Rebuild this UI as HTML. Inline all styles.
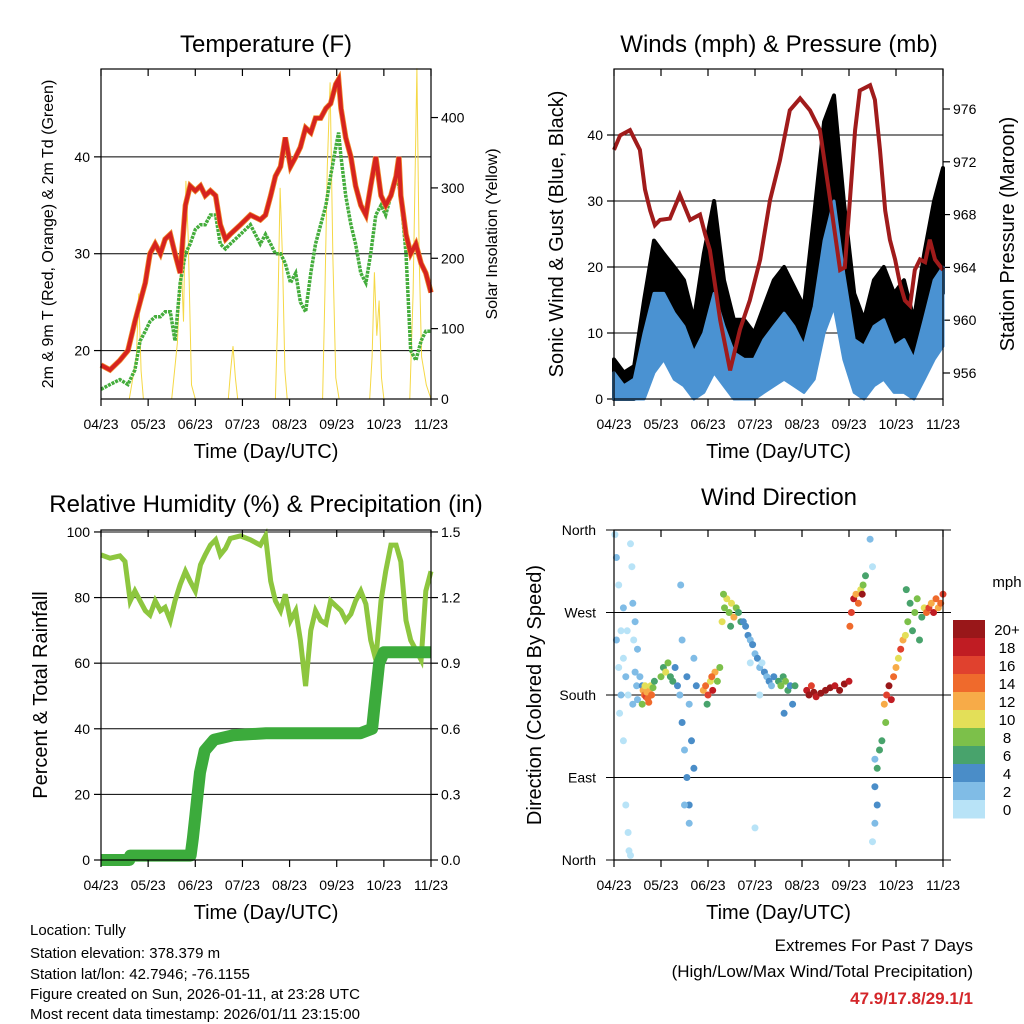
<!DOCTYPE html>
<html><head><meta charset="utf-8">
<style>
html,body{margin:0;padding:0;background:#fff;}
svg{display:block;font-family:"Liberation Sans",sans-serif;}
</style></head>
<body>
<svg id="chart" width="1024" height="1024" viewBox="0 0 1024 1024" xmlns="http://www.w3.org/2000/svg">
<g id="layer"></g>
</svg>
<script>
// ---------- data ----------
const xTickLabels = ["04/23","05/23","06/23","07/23","08/23","09/23","10/23","11/23"];
const tempDays = [0,.19,.40,.57,.72,.83,.94,1.04,1.15,1.26,1.36,1.47,1.57,1.68,1.79,1.89,2.0,2.11,2.21,2.32,2.43,2.53,2.64,2.74,2.96,3.17,3.38,3.49,3.6,3.7,3.81,3.91,4.02,4.13,4.23,4.34,4.45,4.55,4.66,4.77,4.87,4.98,5.04,5.09,5.19,5.3,5.4,5.51,5.62,5.72,5.83,5.94,6.04,6.15,6.26,6.32,6.36,6.47,6.57,6.68,6.79,6.89,7.0];
const tempRed = [18.5,18,19,20,23,25,27,30,31,30,31.5,32,30,28,35,37,36.5,37,36,36.5,36,33,31.5,32,33,34,33.5,34,36,38,39,42,39,40,41,43,42.5,44,44,45,45.5,47.5,48,45,42,40,37,35,34,37,40,36,35,36,38,40,36,32,30,31,29,28,26];
const dewGreen = [16,16.5,17,16.5,18,21,22,23,23.5,23.5,24,24,21,27,30,31,32.5,33,33,34,34,31,30.5,31,32,33,31,32,31,30,30,29,27,28,25,24,28,31,33,35,38,41,42.5,40,36,33,31,28,27,30,34,35,34,36,38,37,36,30,20,19,21,22,22];
const tempTicks = [20,30,40];
const solarTicks = [0,100,200,300,400];
const solarDays = [0,0.6,0.75,0.8,0.85,0.9,1.5,1.62,1.7,1.75,1.8,1.85,1.92,2.0,2.7,2.75,2.8,2.85,2.9,3.7,3.75,3.8,3.85,3.9,3.95,4.7,4.75,4.8,4.86,4.92,4.98,5.05,5.7,5.75,5.8,5.85,5.9,5.95,6.0,6.55,6.62,6.7,6.75,6.8,6.9,7.0];
const solarVals = [0,0,60,150,40,0,0,80,200,110,310,230,20,0,0,40,75,30,0,0,120,300,200,40,0,0,150,330,450,200,30,0,0,60,180,90,140,30,0,0,150,470,200,60,20,0];

const windDays = [0,.21,.43,.64,.85,1.06,1.28,1.49,1.7,1.91,2.13,2.34,2.55,2.77,2.98,3.19,3.4,3.62,3.83,4.04,4.26,4.47,4.68,4.89,5.11,5.32,5.53,5.74,5.96,6.17,6.38,6.6,6.81,7.0];
const gustHi = [6,4,5,15,24,22,20,18,12,22,30,18,12,12,10,14,18,20,17,14,28,42,46,30,16,12,18,20,16,18,12,22,30,35];
const gustLo = [0,0,0,4,10,12,8,6,3,4,10,6,3,2,2,5,7,8,6,4,9,18,22,12,5,3,6,8,4,5,2,8,14,16];
const windHi = [4,2,3,10,16,16,13,11,7,10,16,11,7,6,6,9,11,13,11,8,14,24,30,19,9,8,11,12,8,9,6,12,18,20];
const windLo = [0,0,0,0,4,6,3,2,0,1,4,2,0,0,0,1,2,3,2,1,3,10,14,6,1,0,2,3,1,1,0,3,6,8];
const windTicks = [0,10,20,30,40];
const presDays = [0,.13,.34,.55,.66,.77,.87,.98,1.19,1.4,1.62,1.83,1.94,2.04,2.26,2.47,2.68,2.89,3.11,3.32,3.53,3.74,3.96,4.17,4.38,4.6,4.81,4.91,5.02,5.13,5.23,5.45,5.55,5.66,5.77,5.87,5.98,6.09,6.19,6.3,6.4,6.51,6.62,6.72,6.83,7.0];
const presVals = [972.9,974,974.4,972.9,969.9,968.3,967.2,967.6,967.7,969.5,967.6,968,966.5,965.3,960,956.2,959.3,961.5,964.6,969.1,972.1,975.9,976.8,975.9,974.4,969.1,963.8,964,969.1,974.4,977.4,977.8,976.7,972.9,968.3,966.1,964.6,962.7,961.5,961.1,963.8,964.6,964.4,966.1,964.6,963.8];
const presTicks = [956,960,964,968,972,976];

const rhDays = [0,.19,.40,.51,.62,.72,.83,.94,1.04,1.15,1.26,1.36,1.47,1.57,1.68,1.79,1.89,2.0,2.11,2.21,2.32,2.43,2.53,2.64,2.74,2.96,3.17,3.38,3.49,3.6,3.7,3.81,3.91,4.02,4.13,4.23,4.34,4.45,4.55,4.66,4.77,4.87,5.09,5.19,5.3,5.4,5.51,5.62,5.72,5.83,5.94,6.04,6.15,6.26,6.36,6.47,6.57,6.68,6.79,6.89,7.0];
const rhVals = [93,92,92.7,91,79,82,79,76,74.7,79,76,77,73,79,84,88,85,82,90,93,96,97.6,93,95,98,98.8,97.6,96,98.8,85,79,76,81,73,76,67,53,70,76,73,72,79,76,73,75,79,82,78,67,61,79,88,96,96,91,73,67,64,61,82,88];
const rhTicks = [0,20,40,60,80,100];
const precipDays = [0,0.6,0.62,1.9,1.95,2.0,2.05,2.1,2.2,2.4,2.8,3.5,5.5,5.75,5.8,5.85,5.9,6.0,6.1,7.0];
const precipVals = [0,0,0.02,0.02,0.1,0.2,0.3,0.4,0.5,0.55,0.57,0.58,0.58,0.6,0.7,0.8,0.9,0.95,0.95,0.95];
const precipTicks = ["0.0","0.3","0.6","0.9","1.2","1.5"];

const dirTicks = ["North","East","South","West","North"];
const dirDays = [0.02,0.05,0.1,0.15,0.2,0.25,0.3,0.35,0.38,0.4,0.42,0.45,0.48,0.5,0.05,0.1,0.12,0.2,0.25,0.3,0.32,0.35,0.2,0.28,0.45,0.5,0.55,0.6,0.15,0.4,
0.62,0.65,0.68,0.7,0.72,0.75,0.78,0.8,0.83,0.86,0.6,0.66,0.74,
1.0,1.05,1.1,1.15,1.2,1.25,1.3,1.35,
1.4,1.45,1.5,1.55,1.6,1.55,1.6,1.65,1.7,1.75,1.45,1.6,1.5,1.7,1.42,
1.9,1.95,2.0,2.05,2.1,2.15,2.2,2.25,1.98,2.08,
2.3,2.35,2.4,2.45,2.5,2.55,2.6,2.65,2.7,2.33,2.48,
2.75,2.8,2.85,2.9,2.95,3.0,3.05,3.1,3.15,3.2,3.25,3.3,3.35,3.4,2.9,3.1,3.0,
3.5,3.55,3.6,3.65,3.7,3.75,3.8,3.85,3.62,
4.1,4.15,4.2,4.25,4.3,4.4,4.5,4.6,4.7,4.8,4.9,5.0,
5.02,5.05,5.1,5.15,5.2,5.25,5.3,5.35,5.28,
5.45,5.5,5.55,5.55,5.6,5.6,5.65,5.55,5.5,5.7,
5.75,5.8,5.85,5.9,5.95,6.0,6.05,6.1,6.15,6.2,5.78,
6.25,6.3,6.35,6.4,6.45,6.5,6.55,6.6,6.22,
6.65,6.7,6.75,6.8,6.85,6.9,6.95,7.0];
const dirDeg = [355,330,300,250,220,200,180,345,320,280,240,205,190,175,240,210,160,130,60,30,10,5,275,250,260,230,200,190,180,170,
185,180,178,183,176,185,190,180,188,195,170,190,172,
200,210,205,215,200,195,210,190,
180,150,120,90,60,200,170,130,100,190,240,40,60,220,300,
185,190,180,195,185,205,195,210,170,200,
260,275,285,270,280,265,275,270,260,290,255,
260,255,245,240,235,225,220,210,215,205,200,195,190,200,215,180,35,
195,190,200,195,185,190,170,190,160,
185,180,190,183,178,182,185,188,190,185,192,195,
255,270,285,290,280,295,300,310,290,
350,320,110,80,100,60,120,40,20,130,
170,180,190,175,200,210,220,230,240,245,150,
260,280,250,270,285,240,265,275,295,
270,275,280,270,285,275,280,290];
const dirSpd = [1,2,1,0,1,2,1,0,1,2,1,2,3,2,2,1,0,1,1,0,1,0,2,1,2,3,3,4,2,3,
12,14,16,13,15,12,10,14,8,6,8,11,14,
8,6,10,8,6,7,5,4,
3,4,3,4,4,4,3,4,5,5,2,3,2,2,3,
12,14,16,10,18,12,8,9,6,14,
10,9,11,8,10,12,9,7,6,8,6,
5,4,4,3,4,2,4,3,1,4,3,5,2,4,1,1,1,
7,8,6,8,7,5,4,6,4,
18,20,16,20,18,20,22,20,18,20,20,18,
14,16,18,12,15,10,8,6,20,
2,1,3,5,6,4,7,2,1,6,
12,16,20,18,14,12,10,16,12,10,8,
8,6,7,9,8,6,7,10,6,
14,16,12,18,15,13,14,16];
const spdBinLabels = ["20+","18","16","14","12","10","8","6","4","2","0"];
const spdColors = ["#b8e3f7","#80bce6","#4a8dc8","#48a36c","#7cc04a","#e3df58","#f7ab48","#ef6a2c","#e0412e","#c01c23","#991719"];

// ---------- helpers ----------
const NS="http://www.w3.org/2000/svg";
const root=document.getElementById('layer');
function el(tag,attrs,parent,text){const e=document.createElementNS(NS,tag);for(const k in attrs)e.setAttribute(k,attrs[k]);if(text!==undefined)e.textContent=text;(parent||root).appendChild(e);return e;}
function lin(d0,d1,r0,r1){return v=>r0+(v-d0)*(r1-r0)/(d1-d0);}
function pathFrom(xs,ys,sx,sy){let d="";for(let i=0;i<xs.length;i++){d+=(i?"L":"M")+sx(xs[i]).toFixed(1)+","+sy(ys[i]).toFixed(1);}return d;}
function bandFrom(xs,hi,lo,sx,sy){let d="";for(let i=0;i<xs.length;i++){d+=(i?"L":"M")+sx(xs[i]).toFixed(1)+","+sy(hi[i]).toFixed(1);}
  for(let i=xs.length-1;i>=0;i--){d+="L"+sx(xs[i]).toFixed(1)+","+sy(lo[i]).toFixed(1);}return d+"Z";}

function panel(id){
  const g=el('g',{});
  
  
  return g;
}
function frame(g,x0,y0,x1,y1,sx,name){
  const f=el('rect',{x:x0,y:y0,width:x1-x0,height:y1-y0,fill:'none',stroke:'#000','stroke-width':1.2},g);
  
  
  const xg=el('g',{},g);
  
  
  for(let i=0;i<xTickLabels.length;i++){
    const x=sx(i);
    el('line',{x1:x,y1:y1,x2:x,y2:y1+7,stroke:'#000','stroke-width':1.2},xg);
    el('line',{x1:x,y1:y0,x2:x,y2:y0+7,stroke:'#000','stroke-width':1.2},xg);
    const t=el('text',{x:x,y:y1+30,'font-size':14,'text-anchor':'middle'},xg,xTickLabels[i]);
    
    
  }
  const xt=el('text',{x:(x0+x1)/2,y:y1+59,'font-size':20,'text-anchor':'middle'},g,'Time (Day/UTC)');
  
  
}
function yTicks(g,vals,labels,sy,x0,x1,side,grid){
  for(let i=0;i<vals.length;i++){
    const y=sy(vals[i]);
    if(grid) el('line',{x1:x0,y1:y,x2:x1,y2:y,stroke:'#000','stroke-width':1},g);
    if(side==='l'){el('line',{x1:x0-7,y1:y,x2:x0,y2:y,stroke:'#000','stroke-width':1.2},g);
      const t=el('text',{x:x0-11,y:y+5,'font-size':14,'text-anchor':'end'},g,labels[i]);
      
      }
    else{el('line',{x1:x1,y1:y,x2:x1+7,y2:y,stroke:'#000','stroke-width':1.2},g);
      const t=el('text',{x:x1+10,y:y+5,'font-size':14,'text-anchor':'start'},g,labels[i]);
      
      }
  }
}
function title(g,x,y,txt,name){const t=el('text',{x:x,y:y,'font-size':24,'text-anchor':'middle'},g,txt);}
function vtitle(g,x,y,txt,size,name){const t=el('text',{x:x,y:y,'font-size':size,'text-anchor':'middle',transform:`rotate(-90 ${x} ${y})`},g,txt);}

// ---------- Panel 1: Temperature ----------
(function(){
  const x0=101,x1=431,y0=69,y1=399;
  const g=panel('temperature-panel');
  const sx=lin(0,7,x0,x1), sy=lin(15,49.07,y1,y0), ss=lin(0,469,y1,y0);
  yTicks(g,tempTicks,tempTicks.map(String),sy,x0,x1,'l',true);
  yTicks(g,solarTicks,solarTicks.map(String),ss,x0,x1,'r',false);
  const sol=el('path',{d:pathFrom(solarDays,solarVals,sx,ss),fill:'none',stroke:'#f5d845','stroke-width':1},g);
  
  
  const dew=el('path',{d:pathFrom(tempDays,dewGreen,sx,sy),fill:'none',stroke:'#44ad3c','stroke-width':3.5,'stroke-dasharray':'3 1'},g);
  
  
  const o=el('path',{d:pathFrom(tempDays,tempRed,sx,sy),fill:'none',stroke:'#ef8a2a','stroke-width':5.5},g);
  
  
  const r=el('path',{d:pathFrom(tempDays,tempRed,sx,sy),fill:'none',stroke:'#d6231f','stroke-width':4},g);
  
  
  frame(g,x0,y0,x1,y1,sx,'temperature');
  title(g,266,52,'Temperature (F)','temperature-title');
  vtitle(g,53,234,'2m & 9m T (Red, Orange) & 2m Td (Green)',16,'temperature-y-axis-title');
  vtitle(g,497,234,'Solar Insolation (Yellow)',16,'solar-y-axis-title');
})();

// ---------- Panel 2: Winds ----------
(function(){
  const x0=614,x1=943,y0=69,y1=399;
  const g=panel('winds-panel');
  const sx=lin(0,7,x0,x1), sy=lin(0,50,y1,y0), sp=lin(954.03,979.03,y1,y0);
  yTicks(g,windTicks,windTicks.map(String),sy,x0,x1,'l',true);
  yTicks(g,presTicks,presTicks.map(String),sp,x0,x1,'r',false);
  const gb=el('path',{d:bandFrom(windDays,gustHi,gustLo,sx,sy),fill:'#000',stroke:'#000','stroke-width':4,'stroke-linejoin':'round'},g);
  
  
  const wb=el('path',{d:bandFrom(windDays,windHi,windLo,sx,sy),fill:'#4a92d2',stroke:'#4a92d2','stroke-width':3,'stroke-linejoin':'round'},g);
  
  
  const p=el('path',{d:pathFrom(presDays,presVals,sx,sp),fill:'none',stroke:'#a01b1b','stroke-width':4},g);
  
  
  frame(g,x0,y0,x1,y1,sx,'winds');
  title(g,779,52,'Winds (mph) & Pressure (mb)','winds-title');
  vtitle(g,563,234,'Sonic Wind & Gust (Blue, Black)',20,'wind-y-axis-title');
  vtitle(g,1014,234,'Station Pressure (Maroon)',20,'pressure-y-axis-title');
})();

// ---------- Panel 3: RH ----------
(function(){
  const x0=101,x1=431,y0=530,y1=860;
  const g=panel('humidity-panel');
  const sx=lin(0,7,x0,x1), sy=lin(0,100.6,y1,y0), sr=lin(0,1.509,y1,y0);
  yTicks(g,rhTicks,rhTicks.map(String),sy,x0,x1,'l',true);
  yTicks(g,precipTicks.map(Number),precipTicks,sr,x0,x1,'r',false);
  const rh=el('path',{d:pathFrom(rhDays,rhVals,sx,sy),fill:'none',stroke:'#8dc63f','stroke-width':5},g);
  
  
  const pr=el('path',{d:pathFrom(precipDays,precipVals,sx,sr),fill:'none',stroke:'#3cab3c','stroke-width':12,'stroke-linejoin':'round'},g);
  
  
  frame(g,x0,y0,x1,y1,sx,'humidity');
  title(g,266,512,'Relative Humidity (%) & Precipitation (in)','humidity-title');
  vtitle(g,47,695,'Percent & Total Rainfall',20,'humidity-y-axis-title');
})();

// ---------- Panel 4: Wind direction ----------
(function(){
  const x0=614,x1=943,y0=530,y1=860;
  const g=panel('wind-direction-panel');
  const sx=lin(0,7,x0,x1), sy=lin(0,360,y1,y0);
  const dv=[0,90,180,270,360];
  for(let i=0;i<dv.length;i++){const y=sy(dv[i]);
    el('line',{x1:x0-8,y1:y,x2:x1+8,y2:y,stroke:'#000','stroke-width':1},g);
    const t=el('text',{x:x0-18,y:y+5,'font-size':14,'text-anchor':'end'},g,dirTicks[i]);
    
    }
  for(let i=0;i<dirDays.length;i++){
    const b=Math.min(10,Math.floor(dirSpd[i]/2));
    const c=el('circle',{cx:sx(dirDays[i]).toFixed(1),cy:sy(dirDeg[i]).toFixed(1),r:3.5,fill:spdColors[b]},g);
    
    
  }
  frame(g,x0,y0,x1,y1,sx,'wind-direction');
  title(g,779,505,'Wind Direction','wind-direction-title');
  vtitle(g,541,695,'Direction (Colored By Speed)',20,'direction-y-axis-title');
  const lg=el('g',{},g);
  
  
  const lt=el('text',{x:1007,y:587,'font-size':15,'text-anchor':'middle'},lg,'mph');
  
  
  for(let i=0;i<spdBinLabels.length;i++){
    const y=620+i*18;
    const r=el('rect',{x:953,y:y,width:32,height:18.5,fill:spdColors[10-i]},lg);
    
    
    const t=el('text',{x:1007,y:y+15,'font-size':15,'text-anchor':'middle'},lg,spdBinLabels[i]);
    
    
  }
})();

// ---------- footer ----------
(function(){
  const g=el('g',{});
  
  
  const lines=["Location: Tully","Station elevation: 378.379 m","Station lat/lon: 42.7946; -76.1155","Figure created on Sun, 2026-01-11, at 23:28 UTC","Most recent data timestamp: 2026/01/11 23:15:00"];
  const ys=[935,958,979,999,1019];
  for(let i=0;i<lines.length;i++){const t=el('text',{x:30,y:ys[i],'font-size':15},g,lines[i]);
    
    }
  const e=el('g',{});
  
  
  const a=el('text',{x:973,y:951,'font-size':17,'text-anchor':'end'},e,'Extremes For Past 7 Days');
  
  
  const b=el('text',{x:973,y:977,'font-size':17,'text-anchor':'end'},e,'(High/Low/Max Wind/Total Precipitation)');
  
  
  const c=el('text',{x:973,y:1004,'font-size':17,'font-weight':'bold','text-anchor':'end',fill:'#d4262a'},e,'47.9/17.8/29.1/1');
  
  
})();
</script>
</body></html>
